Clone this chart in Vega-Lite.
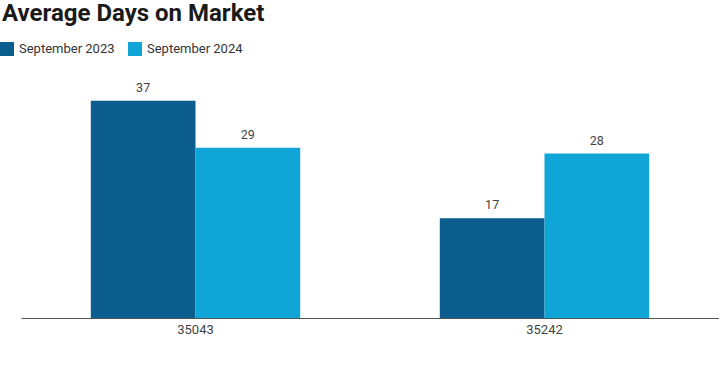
{
  "$schema": "https://vega.github.io/schema/vega-lite/v6.json",
  "autosize": {"type": "none"},
  "padding": {"left": 21, "top": 83, "right": 0, "bottom": 49},
  "width": 698,
  "height": 235,
  "background": "white",
  "title": {
    "text": "Average Days on Market",
    "anchor": "start",
    "frame": "group",
    "font": "Roboto",
    "fontSize": 24,
    "fontWeight": "bold",
    "color": "#1a1a1a",
    "dx": -19,
    "orient": "top",
    "offset": 16
  },
  "data": {
    "values": [
      {"zip": "35043", "period": "September 2023", "days": 37},
      {"zip": "35043", "period": "September 2024", "days": 29},
      {"zip": "35242", "period": "September 2023", "days": 17},
      {"zip": "35242", "period": "September 2024", "days": 28}
    ]
  },
  "encoding": {
    "x": {
      "field": "zip",
      "type": "nominal",
      "scale": {"paddingInner": 0.4, "paddingOuter": 0.2},
      "axis": {
        "title": null,
        "labelAngle": 0,
        "ticks": false,
        "domainColor": "#555555",
        "domainWidth": 1,
        "labelFont": "Roboto",
        "labelFontSize": 13,
        "labelColor": "#444444",
        "labelPadding": 5
      }
    },
    "xOffset": {"field": "period", "type": "nominal", "scale": {"paddingInner": 0, "paddingOuter": 0}},
    "y": {
      "field": "days",
      "type": "quantitative",
      "scale": {"domain": [0, 40]},
      "axis": null
    }
  },
  "layer": [
    {
      "mark": {"type": "bar"},
      "encoding": {
        "color": {
          "field": "period",
          "type": "nominal",
          "scale": {"domain": ["September 2023", "September 2024"], "range": ["#0b5d8e", "#0fa5d6"]},
          "legend": {
            "title": null,
            "orient": "none",
            "direction": "horizontal",
            "legendX": -21,
            "legendY": -41,
            "symbolType": "square",
            "symbolSize": 196,
            "symbolStrokeWidth": 0,
            "symbolOpacity": 1,
            "labelFont": "Roboto",
            "labelFontSize": 13,
            "labelColor": "#333333",
            "labelOffset": 5,
            "columnPadding": 13
          }
        }
      }
    },
    {
      "mark": {"type": "text", "dy": -13, "font": "Roboto", "fontSize": 12.5, "color": "#444444"},
      "encoding": {"text": {"field": "days", "type": "quantitative"}}
    }
  ],
  "config": {"view": {"stroke": null}}
}
